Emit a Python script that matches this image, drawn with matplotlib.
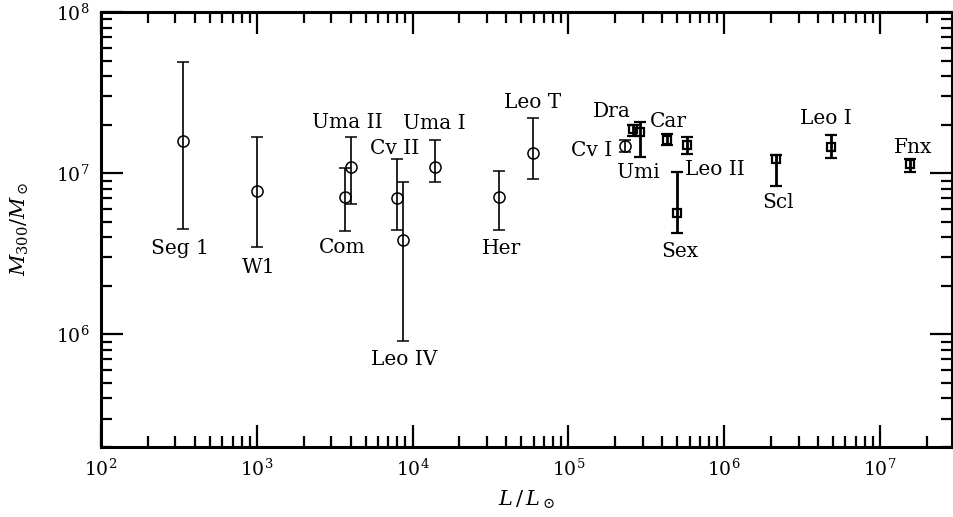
import matplotlib
matplotlib.use("Agg")
import matplotlib.pyplot as plt
from matplotlib.ticker import LogLocator, NullFormatter

plt.rcParams['font.family'] = ['DejaVu Serif']
plt.rcParams['mathtext.fontset'] = 'dejavuserif'

# ---- data: ultra-faint dwarfs (circles) ----
circ_names = ["Seg 1", "W1", "Com", "Uma II", "Cv II", "Leo IV", "Uma I", "Her", "Leo T", "Cv I"]
circ_L = [335, 1000, 3690, 4020, 7890, 8670, 14000, 36100, 59300, 2.30e5]
circ_M = [1.58e7, 7.7e6, 7.1e6, 1.09e7, 6.97e6, 3.84e6, 1.09e7, 7.1e6, 1.33e7, 1.48e7]
circ_hi = [4.9e7, 1.67e7, 1.08e7, 1.67e7, 1.23e7, 8.87e6, 1.60e7, 1.03e7, 2.2e7, 1.60e7]
circ_lo = [4.5e6, 3.5e6, 4.4e6, 6.44e6, 4.47e6, 9.06e5, 8.87e6, 4.45e6, 9.15e6, 1.35e7]

# ---- data: classical dwarfs (squares) ----
sq_names = ["Dra", "Umi", "Car", "Sex", "Leo II", "Scl", "Leo I", "Fnx"]
sq_L = [2.58e5, 2.90e5, 4.30e5, 4.98e5, 5.78e5, 2.16e6, 4.87e6, 1.55e7]
sq_M = [1.87e7, 1.81e7, 1.60e7, 5.67e6, 1.49e7, 1.23e7, 1.46e7, 1.14e7]
sq_hi = [2.00e7, 2.07e7, 1.75e7, 1.01e7, 1.68e7, 1.30e7, 1.72e7, 1.22e7]
sq_lo = [1.71e7, 1.26e7, 1.50e7, 4.28e6, 1.31e7, 8.30e6, 1.24e7, 1.02e7]

# label offsets in pixels (layout)
offsets = {
    "Seg 1": (-3, -107), "W1": (2, -76), "Com": (-3, -50), "Uma II": (-4, 45),
    "Cv II": (-2, 50), "Leo IV": (1, -119), "Uma I": (-1, 44), "Her": (2, -51),
    "Leo T": (0, 51), "Cv I": (-33, -5), "Dra": (-21, 18), "Umi": (-2, -41),
    "Car": (1, 19), "Sex": (3, -39), "Leo II": (28, -24), "Scl": (2, -44),
    "Leo I": (-5, 28), "Fnx": (3, 17),
}

fig = plt.figure(figsize=(9.54, 5.17), dpi=100)
ax = fig.add_axes([101/954, 1 - 447/517, (952 - 101)/954, (447 - 12)/517])

def err(M, lo, hi):
    return [[m - l for m, l in zip(M, lo)], [h - m for m, h in zip(M, hi)]]

ax.errorbar(circ_L, circ_M, yerr=err(circ_M, circ_lo, circ_hi), fmt='o', mfc='none',
            mec='black', ms=8, mew=1.1, ecolor='black', elinewidth=1.2, capsize=4.5,
            capthick=1.2, color='black')
ax.errorbar(sq_L, sq_M, yerr=err(sq_M, sq_lo, sq_hi), fmt='s', mfc='none',
            mec='black', ms=5.5, mew=1.6, ecolor='black', elinewidth=2.0, capsize=4,
            capthick=2.0, color='black')

for names, L, M in [(circ_names, circ_L, circ_M), (sq_names, sq_L, sq_M)]:
    for n, x, y in zip(names, L, M):
        dx, dy = offsets[n]
        ax.annotate(n, (x, y), xytext=(dx, dy), textcoords='offset pixels',
                    ha='center', va='center', fontsize=14.5)

ax.set_xscale('log')
ax.set_yscale('log')
ax.set_xlim(100, 2.9e7)
ax.set_ylim(2e5, 1e8)

ax.xaxis.set_major_locator(LogLocator(base=10, numticks=20))
ax.xaxis.set_minor_locator(LogLocator(base=10, subs=range(2, 10), numticks=50))
ax.yaxis.set_major_locator(LogLocator(base=10, numticks=20))
ax.yaxis.set_minor_locator(LogLocator(base=10, subs=range(2, 10), numticks=50))
ax.xaxis.set_minor_formatter(NullFormatter())
ax.yaxis.set_minor_formatter(NullFormatter())

ax.tick_params(which='both', direction='in', top=True, right=True, width=1.6, labelsize=13.5)
ax.tick_params(which='major', length=16, pad=8)
ax.tick_params(which='minor', length=8)
for s in ax.spines.values():
    s.set_linewidth(2.2)

ax.set_xlabel(r'$L\,/\,L_\odot$', fontsize=15, labelpad=7)
ax.set_ylabel(r'$M_{300}/M_\odot$', fontsize=15, labelpad=18)

fig.savefig('out.png', dpi=100)
